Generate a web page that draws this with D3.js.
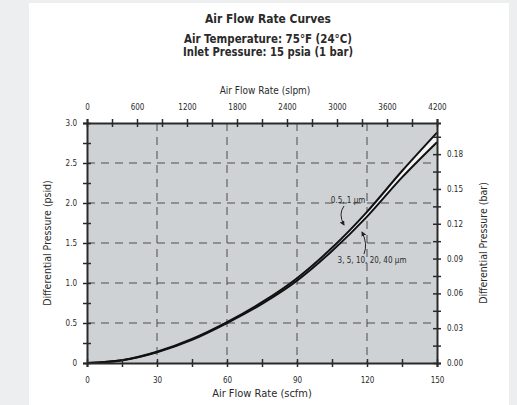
<!DOCTYPE html>
<html><head><meta charset="utf-8">
<script src="https://cdn.jsdelivr.net/npm/d3@7"></script>
<style>
html,body{margin:0;padding:0;background:#eceef0;}
svg{display:block;}
text{font-family:"Liberation Sans Narrow","DejaVu Sans Condensed","Arial Narrow",sans-serif;font-stretch:condensed;fill:#2a2a2a;}
</style></head>
<body>
<script>
// ---- data ----
const flowScfm = [0, 15, 30, 45, 60, 75, 90, 105, 120, 135, 150];
const dpFine   = [0, 0.035, 0.14, 0.30, 0.51, 0.76, 1.06, 1.44, 1.89, 2.40, 2.88];   // 0.5, 1 µm
const dpCoarse = [0, 0.033, 0.135, 0.29, 0.50, 0.74, 1.03, 1.40, 1.83, 2.32, 2.76]; // 3, 5, 10, 20, 40 µm
const seriesLabels = ["0.5, 1 µm", "3, 5, 10, 20, 40 µm"];
const titleLines = ["Air Flow Rate Curves", "Air Temperature: 75°F (24°C)", "Inlet Pressure: 15 psia (1 bar)"];
const scfmTicks = d3.range(0, 151, 15);
const scfmLabels = [0, 30, 60, 90, 120, 150];
const slpmTicks = d3.range(0, 4201, 300);
const slpmLabels = [0, 600, 1200, 1800, 2400, 3000, 3600, 4200];
const psidTicks = d3.range(0, 3.001, 0.25);
const psidLabels = [0, 0.5, 1.0, 1.5, 2.0, 2.5, 3.0];
const barTicks = d3.range(0, 0.2, 0.015);
const barLabels = [0, 0.03, 0.06, 0.09, 0.12, 0.15, 0.18];
const PSI_PER_BAR = 14.5038;

const W = 517, H = 405;
const svg = d3.select("body").append("svg").attr("width", W).attr("height", H);
svg.append("rect").attr("x", 29).attr("y", 3).attr("width", 480).attr("height", H - 3).attr("fill", "#ffffff");

const L = 87, R = 437, T = 123, B = 363;
const x = d3.scaleLinear().domain([0, 150]).range([L, R]);
const xTop = d3.scaleLinear().domain([0, 150 * 28]).range([L, R]);
const y = d3.scaleLinear().domain([0, 3]).range([B, T]);
const yR = d3.scaleLinear().domain([0, 3 / PSI_PER_BAR]).range([B, T]);

// plot background
svg.append("rect").attr("x", L).attr("y", T).attr("width", R - L).attr("height", B - T).attr("fill", "#cfd2d5");

// grid
const grid = svg.append("g").attr("stroke", "#4a4a4a").attr("stroke-width", 1).attr("stroke-dasharray", "8,6");
grid.selectAll("line.v").data([30, 60, 90, 120]).join("line")
  .attr("x1", d => x(d)).attr("x2", d => x(d)).attr("y1", T).attr("y2", B);
grid.selectAll("line.h").data([0.5, 1.0, 1.5, 2.0, 2.5]).join("line")
  .attr("y1", d => y(d)).attr("y2", d => y(d)).attr("x1", L).attr("x2", R);

// curves
const xs = flowScfm;
const area = d3.area().x((d, i) => x(xs[i])).y0((d, i) => y(dpCoarse[i])).y1((d, i) => y(dpFine[i])).curve(d3.curveMonotoneX);
svg.append("path").datum(dpFine).attr("d", area).attr("fill", "#f4f4f4");
const line = d3.line().x((d, i) => x(xs[i])).y(d => y(d)).curve(d3.curveMonotoneX);
[dpFine, dpCoarse].forEach(s => {
  svg.append("path").datum(s).attr("d", line).attr("fill", "none").attr("stroke", "#111").attr("stroke-width", 2);
});

// axes
function styleAxis(g) {
  g.select(".domain").attr("stroke", "#2a2a2a").attr("stroke-width", 2);
  g.selectAll(".tick line").attr("stroke", "#2a2a2a").attr("stroke-width", 1.5);
  g.selectAll(".tick text").attr("font-size", 8).attr("fill", "#333");
}
const fmtS = d => scfmLabels.includes(d) ? d : "";
const gB = svg.append("g").attr("transform", `translate(0,${B})`)
  .call(d3.axisBottom(x).tickValues(scfmTicks).tickFormat(fmtS).tickSizeOuter(0).tickSize(4).tickPadding(10));
gB.selectAll(".tick line").attr("y1", -4);
styleAxis(gB);

const gT = svg.append("g").attr("transform", `translate(0,${T})`)
  .call(d3.axisTop(xTop).tickValues(slpmTicks).tickFormat(d => slpmLabels.includes(d) ? d : "").tickSizeOuter(0).tickSize(4).tickPadding(9));
gT.selectAll(".tick line").attr("y1", 4);
styleAxis(gT);

const inL = v => psidLabels.some(p => Math.abs(p - v) < 1e-6);
const gL = svg.append("g").attr("transform", `translate(${L},0)`)
  .call(d3.axisLeft(y).tickValues(psidTicks).tickFormat(d => inL(d) ? (d === 0 ? "0" : d.toFixed(1)) : "").tickSizeOuter(0).tickSize(4).tickPadding(6));
gL.selectAll(".tick line").attr("x1", 4);
styleAxis(gL);

const inR = v => barLabels.some(p => Math.abs(p - v) < 1e-6);
const gR = svg.append("g").attr("transform", `translate(${R},0)`)
  .call(d3.axisRight(yR).tickValues(barTicks).tickFormat(d => inR(d) ? d.toFixed(2) : "").tickSizeOuter(0).tickSize(4).tickPadding(6));
gR.selectAll(".tick line").attr("x1", -4);
styleAxis(gR);

// titles
const tY = [19, 39, 52], tW = [126, 168, 170], tF = [12.5, 12, 12];
titleLines.forEach((t, i) => {
  svg.append("text").attr("x", 268).attr("y", tY[i]).attr("text-anchor", "middle").attr("dominant-baseline", "middle")
    .attr("font-weight", "bold").attr("font-size", tF[i]).attr("fill", "#1a1a1a")
    .attr("textLength", tW[i]).attr("lengthAdjust", "spacingAndGlyphs").text(t);
});
svg.append("text").attr("x", 265).attr("y", 91).attr("text-anchor", "middle").attr("dominant-baseline", "middle")
  .attr("font-size", 10).attr("fill", "#444").text("Air Flow Rate (slpm)");
svg.append("text").attr("x", 262).attr("y", 394).attr("text-anchor", "middle").attr("dominant-baseline", "middle")
  .attr("font-size", 11).attr("fill", "#333").text("Air Flow Rate (scfm)");
svg.append("text").attr("transform", "translate(48,243) rotate(-90)").attr("text-anchor", "middle").attr("dominant-baseline", "middle")
  .attr("font-size", 10.5).attr("fill", "#444").text("Differential Pressure (psid)");
svg.append("text").attr("transform", "translate(484,243) rotate(-90)").attr("text-anchor", "middle").attr("dominant-baseline", "middle")
  .attr("font-size", 10.5).attr("fill", "#444").text("Differential Pressure (bar)");

// series labels with leaders
svg.append("defs").append("marker").attr("id", "ah").attr("viewBox", "0 0 6 6").attr("refX", 5).attr("refY", 3)
  .attr("markerWidth", 5).attr("markerHeight", 5).attr("orient", "auto")
  .append("path").attr("d", "M0,0L6,3L0,6Z").attr("fill", "#222");
svg.append("text").attr("x", 348).attr("y", 200).attr("text-anchor", "middle").attr("dominant-baseline", "middle")
  .attr("font-size", 8).attr("fill", "#333").text(seriesLabels[0]);
svg.append("path").attr("d", "M344,206 Q338,214 344,225").attr("fill", "none").attr("stroke", "#222").attr("stroke-width", 1).attr("marker-end", "url(#ah)");
svg.append("text").attr("x", 372).attr("y", 260).attr("text-anchor", "middle").attr("dominant-baseline", "middle")
  .attr("font-size", 8).attr("fill", "#333").text(seriesLabels[1]);
svg.append("path").attr("d", "M364,254 Q368,244 362,232").attr("fill", "none").attr("stroke", "#222").attr("stroke-width", 1).attr("marker-end", "url(#ah)");
</script>
</body></html>
